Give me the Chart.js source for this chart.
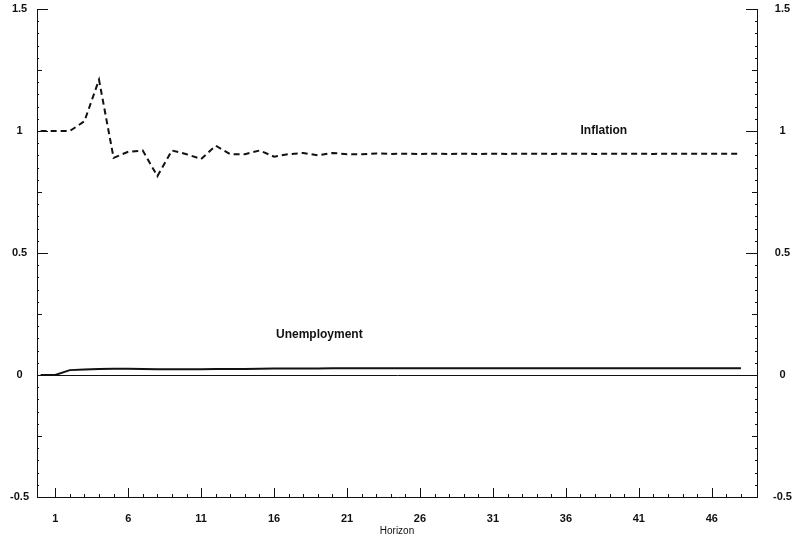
<!DOCTYPE html>
<html>
<head>
<meta charset="utf-8">
<script src="https://cdn.jsdelivr.net/npm/chart.js@4.4.1/dist/chart.umd.min.js"></script>
<style>
  html, body { margin: 0; padding: 0; background: #fff; }
  canvas { display: block; }
</style>
</head>
<body>
<canvas id="irf" width="801" height="541"></canvas>
<script>
// Impulse responses by forecast horizon
const horizons = [0,1,2,3,4,5,6,7,8,9,10,11,12,13,14,15,16,17,18,19,20,21,22,23,24,
  25,26,27,28,29,30,31,32,33,34,35,36,37,38,39,40,41,42,43,44,45,46,47,48];

const inflation = [1.00,1.00,1.00,1.04,1.21,0.89,0.915,0.92,0.815,0.92,0.905,0.885,0.94,
  0.905,0.905,0.92,0.895,0.905,0.91,0.90,0.91,0.905,0.905,0.908,0.906,0.907,0.906,0.907,
  0.906,0.907,0.906,0.907,0.906,0.907,0.907,0.906,0.907,0.907,0.906,0.907,0.907,0.907,
  0.906,0.907,0.907,0.907,0.907,0.907,0.907];

const unemployment = [0,0,0.02,0.023,0.025,0.026,0.026,0.025,0.024,0.024,0.024,0.024,0.025,
  0.025,0.025,0.026,0.027,0.027,0.027,0.027,0.028,0.028,0.028,0.028,0.028,0.028,0.028,0.028,
  0.028,0.028,0.028,0.028,0.028,0.028,0.028,0.028,0.028,0.028,0.028,0.028,0.028,0.028,
  0.028,0.028,0.028,0.028,0.028,0.028,0.028];

const xTickValues = [1,6,11,16,21,26,31,36,41,46];
const yTickValues = [-0.5,0,0.5,1,1.5];

const seriesLabels = [
  { text: 'Inflation', x: 38.6, y: 1.0 },
  { text: 'Unemployment', x: 19.1, y: 0.165 }
];

const INK = '#111';
const FONT = '"Liberation Sans", Arial, sans-serif';

function points(ys) { return horizons.map((h, i) => ({ x: h, y: ys[i] })); }

// Inward tick marks on the left, right and bottom frame, plus the series captions
const frameTicks = {
  id: 'frameTicks',
  afterDraw(chart) {
    const { ctx, chartArea: a, scales } = chart;
    const x = scales.x, y = scales.y;
    ctx.save();
    ctx.strokeStyle = INK;
    ctx.lineWidth = 1;
    ctx.beginPath();
    for (let k = -50; k <= 150; k += 5) {
      const v = k / 100;
      const py = Math.round(y.getPixelForValue(v)) + 0.5;
      let len = 2;
      if (k % 50 === 0) len = 11; else if (k % 25 === 0) len = 5;
      ctx.moveTo(a.left, py); ctx.lineTo(a.left + len, py);
      ctx.moveTo(a.right, py); ctx.lineTo(a.right - len, py);
    }
    for (let h = 1; h <= 48; h++) {
      const px = Math.round(x.getPixelForValue(h)) + 0.5;
      const len = xTickValues.includes(h) ? 9 : 3;
      ctx.moveTo(px, a.bottom); ctx.lineTo(px, a.bottom - len);
    }
    ctx.stroke();

    ctx.fillStyle = INK;
    ctx.font = 'bold 12px ' + FONT;
    ctx.textAlign = 'center';
    ctx.textBaseline = 'middle';
    seriesLabels.forEach(l => {
      ctx.fillText(l.text, x.getPixelForValue(l.x), y.getPixelForValue(l.y));
    });
    ctx.restore();
  }
};

const yScaleBase = (position, width, pad) => ({
  type: 'linear',
  position,
  min: -0.5,
  max: 1.5,
  afterBuildTicks: s => { s.ticks = yTickValues.map(v => ({ value: v })); },
  afterFit: s => { s.width = width; s.paddingTop = 0; s.paddingBottom = 0; },
  border: { display: true, color: INK, width: 1 },
  grid: {
    drawTicks: false,
    drawOnChartArea: position === 'left',
    color: c => (c.tick && c.tick.value === 0 ? INK : 'rgba(0,0,0,0)'),
    lineWidth: 1
  },
  ticks: {
    color: INK,
    padding: pad,
    crossAlign: 'center',
    font: { family: FONT, size: 11, weight: 'bold' },
    callback: v => String(v)
  }
});

new Chart(document.getElementById('irf'), {
  type: 'line',
  data: {
    datasets: [
      {
        label: 'Inflation',
        data: points(inflation),
        borderColor: INK,
        borderWidth: 2,
        borderDash: [6, 4],
        pointRadius: 0,
        tension: 0,
        yAxisID: 'y'
      },
      {
        label: 'Unemployment',
        data: points(unemployment),
        borderColor: INK,
        borderWidth: 2,
        pointRadius: 0,
        tension: 0,
        yAxisID: 'y'
      }
    ]
  },
  options: {
    responsive: false,
    animation: false,
    layout: { padding: { top: 9, left: 0, right: 0, bottom: 0 } },
    plugins: { legend: { display: false }, tooltip: { enabled: false } },
    scales: {
      x: {
        type: 'linear',
        min: -0.25,
        max: 49.1,
        afterBuildTicks: s => { s.ticks = xTickValues.map(v => ({ value: v })); },
        afterFit: s => { s.height = 44; s.paddingLeft = 0; s.paddingRight = 0; },
        border: { display: true, color: INK, width: 1 },
        grid: { display: false },
        ticks: {
          color: INK,
          padding: 7,
          maxRotation: 0,
          font: { family: FONT, size: 11, weight: 'bold' },
          callback: v => String(v)
        },
        title: {
          display: true,
          text: 'Horizon',
          color: INK,
          padding: { top: 0, bottom: 4 },
          font: { family: FONT, size: 10 }
        }
      },
      y: yScaleBase('left', 37, 8),
      y2: yScaleBase('right', 44, 16)
    }
  },
  plugins: [frameTicks]
});
</script>
</body>
</html>
